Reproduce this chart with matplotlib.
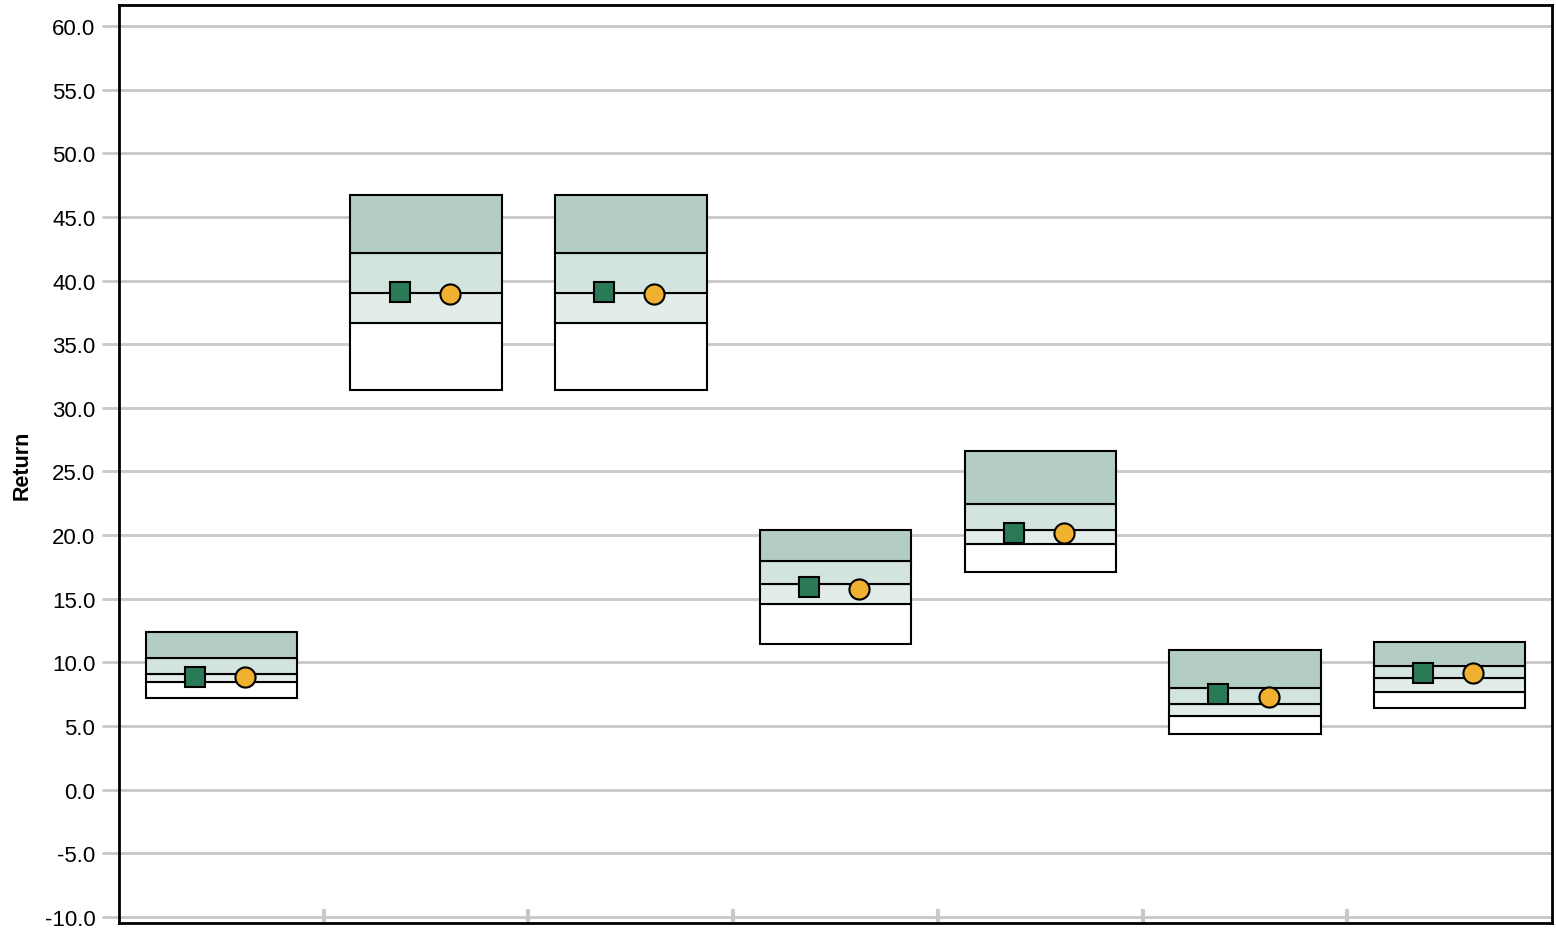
import matplotlib.pyplot as plt
import numpy as np

plt.rcParams['font.family'] = ['Liberation Sans', 'DejaVu Sans']

# percentiles per category (5th, 25th, median, 75th, 95th)
p05 = [7.2, 31.4, 31.4, 11.45, 17.1, 4.4, 6.45]
p25 = [8.45, 36.65, 36.65, 14.6, 19.3, 5.8, 7.7]
p50 = [9.1, 39.0, 39.0, 16.15, 20.4, 6.75, 8.75]
p75 = [10.35, 42.15, 42.15, 17.95, 22.45, 8.0, 9.7]
p95 = [12.4, 46.7, 46.7, 20.4, 26.6, 10.95, 11.6]

# markers
square_vals = [8.85, 39.1, 39.1, 15.95, 20.15, 7.5, 9.2]
circle_vals = [8.85, 38.95, 38.95, 15.75, 20.15, 7.3, 9.2]

yticks = np.arange(-10, 61, 5)

fig = plt.figure(figsize=(15.56, 9.29), dpi=100)
ax = fig.add_axes([0.0765, 0.0055, 0.921, 0.988])

x = np.arange(len(p50))
w = 0.74
lw = 1.5

ax.bar(x, np.array(p25) - np.array(p05), bottom=p05, width=w, color='white', edgecolor='black', linewidth=lw, zorder=3)
ax.bar(x, np.array(p50) - np.array(p25), bottom=p25, width=w, color='#e2ece8', edgecolor='black', linewidth=lw, zorder=3)
ax.bar(x, np.array(p75) - np.array(p50), bottom=p50, width=w, color='#d3e3dd', edgecolor='black', linewidth=lw, zorder=3)
ax.bar(x, np.array(p95) - np.array(p75), bottom=p75, width=w, color='#b3cdc3', edgecolor='black', linewidth=lw, zorder=3)

ax.plot(x - 0.13, square_vals, 's', ms=14, color='#2a7a57', mec='black', mew=1.5, linestyle='none', zorder=5)
ax.plot(x + 0.115, circle_vals, 'o', ms=14.5, color='#f0b030', mec='black', mew=1.5, linestyle='none', zorder=5)

ax.set_xlim(-0.5, len(p50) - 0.5)
ax.set_ylim(-10.47, 61.65)
ax.set_yticks(yticks)
ax.set_yticklabels([f'{v:.1f}' for v in yticks], fontsize=16)
ax.set_xticks(np.arange(0.5, len(p50) - 0.5, 1))
ax.set_xticklabels([])
ax.tick_params(axis='x', direction='in', length=10, width=3, color='#c8cacc')
ax.tick_params(axis='y', direction='out', length=12, width=2, color='#c8c8c8', pad=5)
ax.grid(axis='y', color='#c8c8c8', linewidth=2, zorder=0)
ax.set_axisbelow(True)

for s in ax.spines.values():
    s.set_linewidth(2)
    s.set_color('black')

ax.set_ylabel('Return', fontsize=15.5, fontweight='bold')
ax.yaxis.set_label_coords(-0.0605, 0.5)

fig.savefig('out.png', dpi=100)
